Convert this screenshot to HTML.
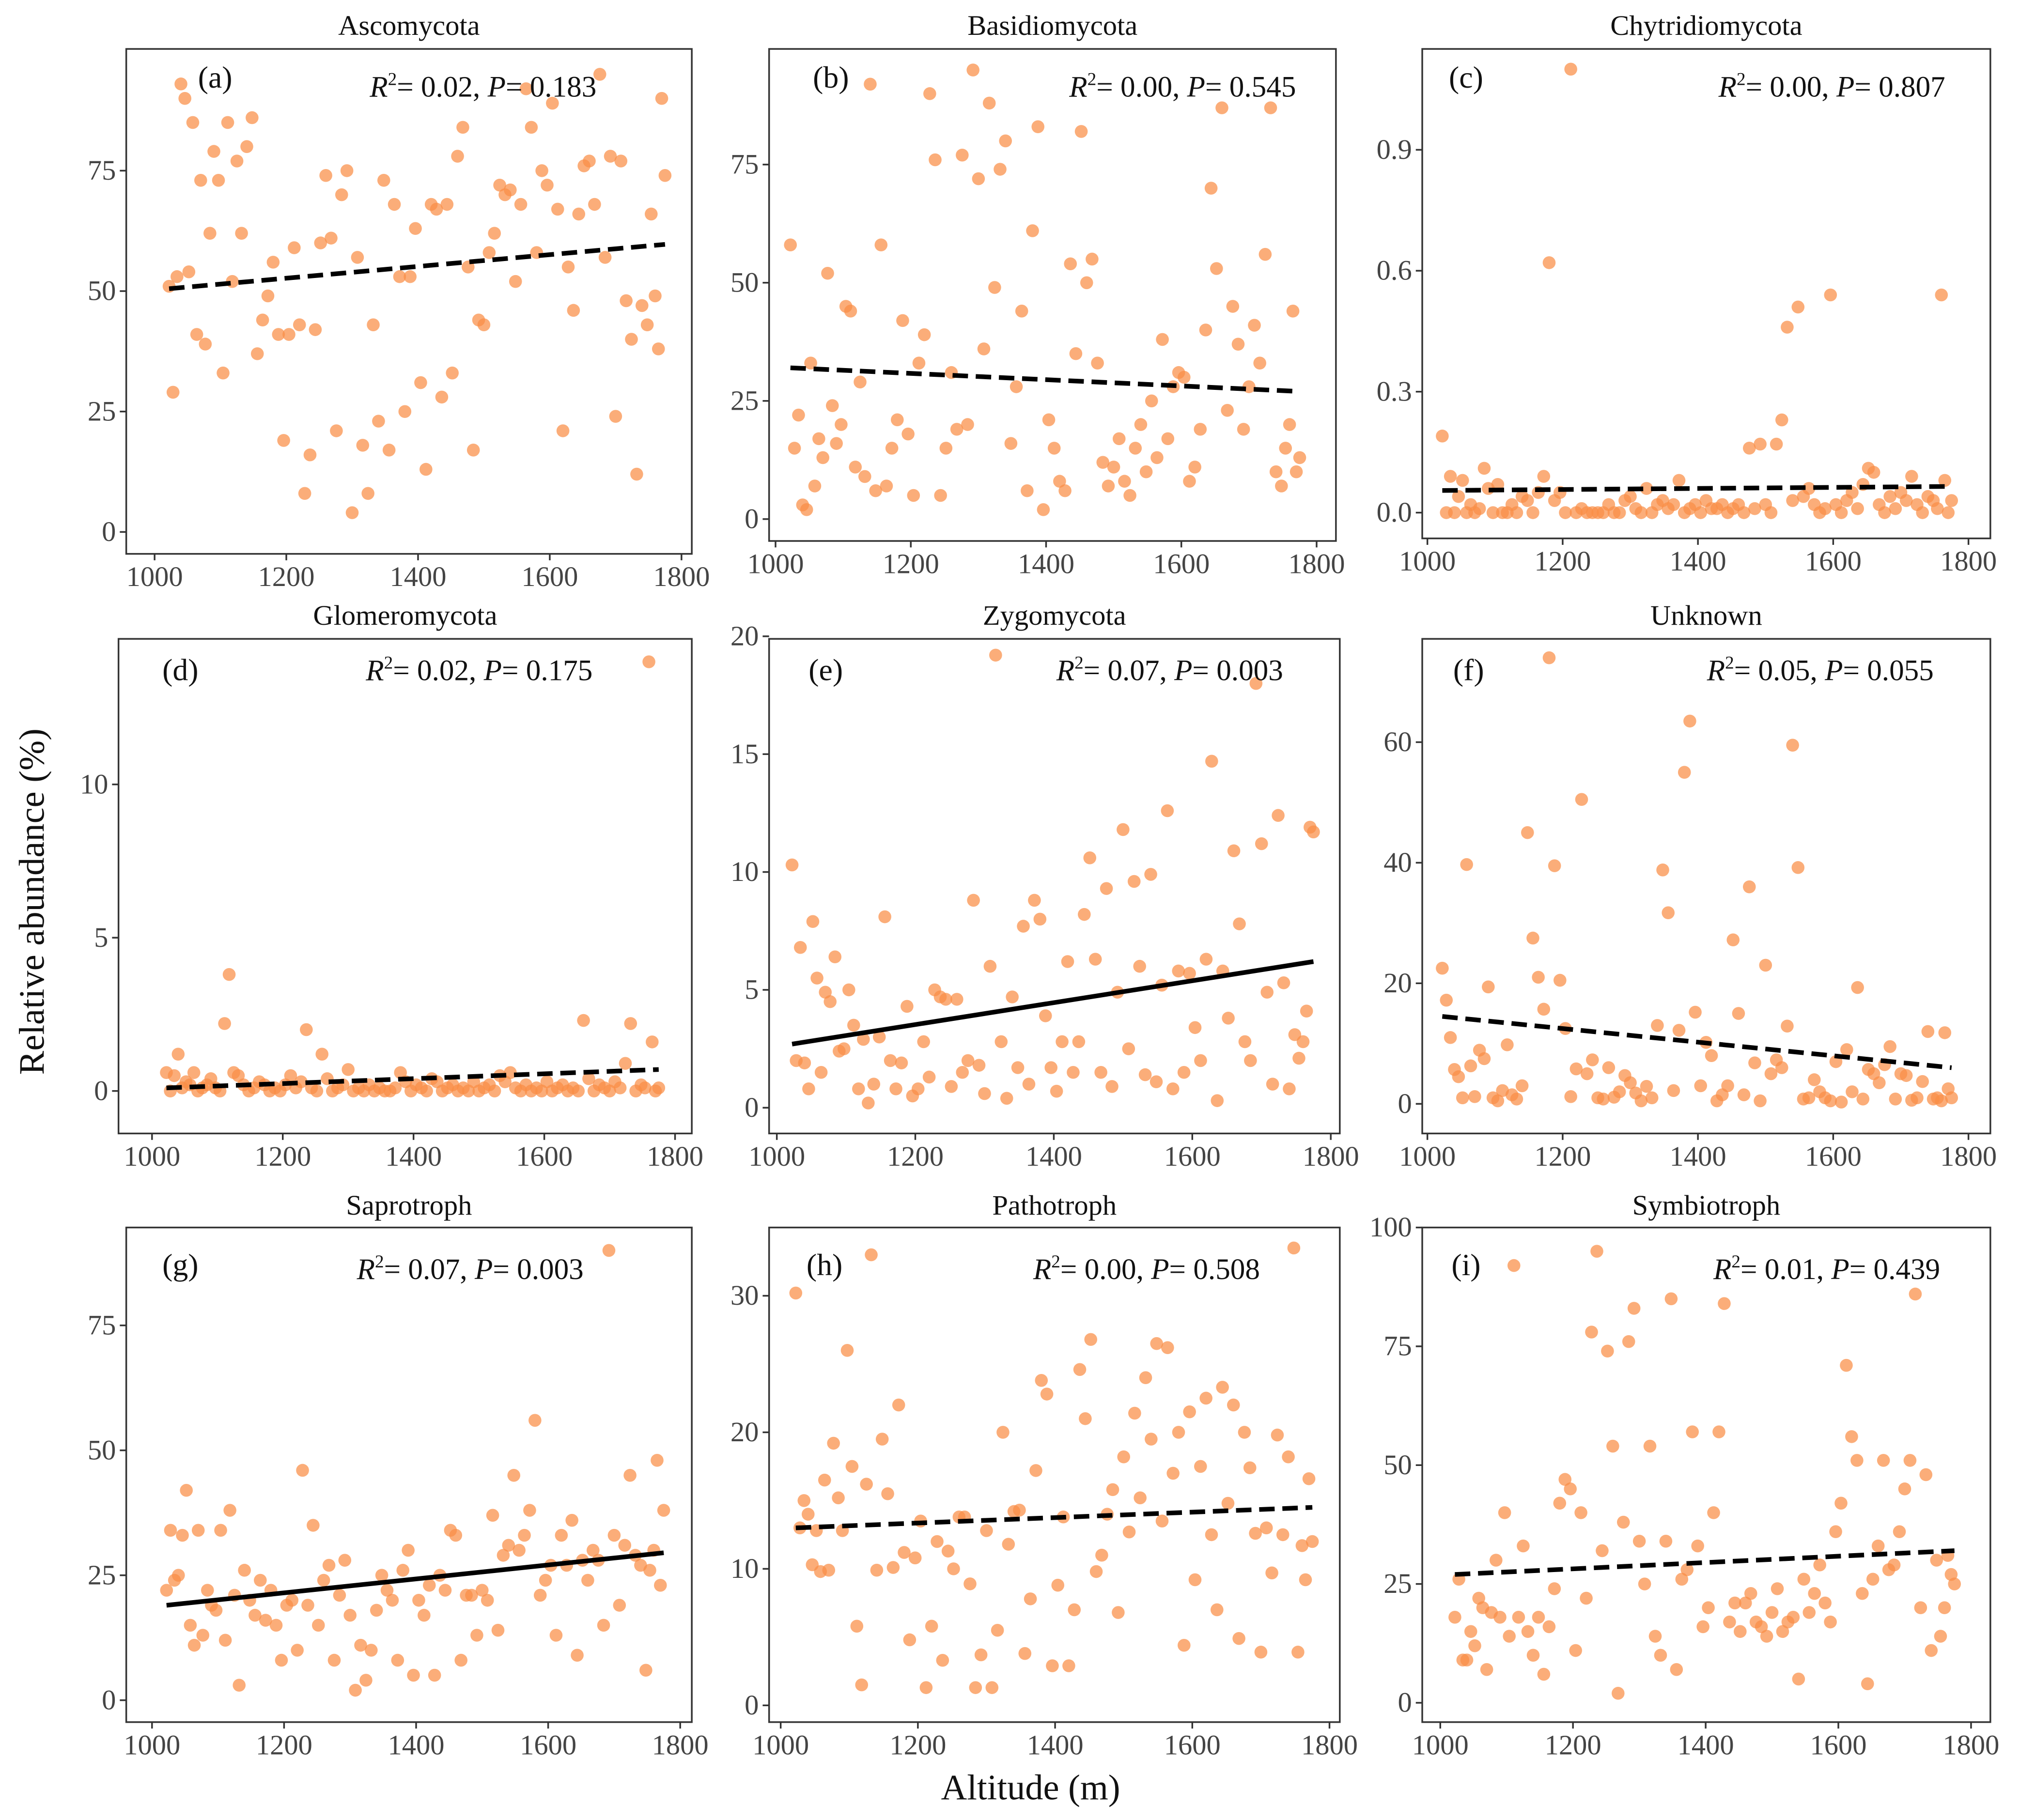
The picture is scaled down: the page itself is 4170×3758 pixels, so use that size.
<!DOCTYPE html>
<html><head><meta charset="utf-8"><style>
html,body{margin:0;padding:0;background:#fff;}
svg{display:block;font-family:"Liberation Serif",serif;}
</style></head><body>
<svg id="chart" width="4170" height="3758" viewBox="0 0 1568 1413" preserveAspectRatio="none" xmlns="http://www.w3.org/2000/svg">
<text x="0" y="0" transform="translate(34,700) rotate(-90)" text-anchor="middle" font-size="28" font-family="Liberation Serif, serif" fill="#111">Relative abundance (%)</text>
<text x="800" y="1397" text-anchor="middle" font-size="28" font-family="Liberation Serif, serif" fill="#111">Altitude (m)</text>
</svg>
<script>
const altitude = [1022,1028,1034,1040,1046,1052,1058,1064,1070,1077,1084,1090,1097,1104,1111,1118,1125,1132,1140,1148,1156,1164,1172,1180,1188,1196,1204,1212,1220,1228,1236,1244,1252,1260,1268,1276,1284,1292,1300,1308,1316,1324,1332,1340,1348,1356,1364,1372,1380,1388,1396,1404,1412,1420,1428,1436,1444,1452,1460,1468,1476,1484,1492,1500,1508,1516,1524,1532,1540,1548,1556,1564,1572,1580,1588,1596,1604,1612,1620,1628,1636,1644,1652,1660,1668,1676,1684,1692,1700,1708,1716,1724,1732,1740,1748,1754,1760,1765,1770,1775];
const ascomycota = [51,29,53,93,90,54,85,41,73,39, 62,79,73,33,85,52,77,62,80,86, 37,44,49,56,41,19,41,59,43,8, 16,42,60,74,61,21,70,75,4,57, 18,8,43,23,73,17,68,53,25,53, 63,31,13,68,67,28,68,33,78,84, 55,17,44,43,58,62,72,70,71,52, 68,92,84,58,75,72,89,67,21,55, 46,66,76,77,68,95,57,78,24,77, 48,40,12,47,43,66,49,38,90,74];
const basidiomycota = [58,15,22,3,2,33,7,17,13,52, 24,16,20,45,44,11,29,9,92,6, 58,7,15,21,42,18,5,33,39,90, 76,5,15,31,19,77,20,95,72,36, 88,49,74,80,16,28,44,6,61,83, 2,21,15,8,6,54,35,82,50,55, 33,12,7,11,17,8,5,15,20,10, 25,13,38,17,28,31,30,8,11,19, 40,70,53,87,23,45,37,19,28,41, 33,56,87,10,7,15,20,44,10,13];
const chytridiomycota = [0.19,0.0,0.09,0.0,0.04,0.08,0.0,0.02,0.0,0.01, 0.11,0.06,0.0,0.07,0.0,0.0,0.02,0.0,0.04,0.03, 0.0,0.05,0.09,0.62,0.03,0.05,0.0,1.1,0.0,0.01, 0.0,0.0,0.0,0.0,0.02,0.0,0.0,0.03,0.04,0.01, 0.0,0.06,0.0,0.02,0.03,0.01,0.02,0.08,0.0,0.01, 0.02,0.0,0.03,0.01,0.01,0.02,0.0,0.01,0.02,0.0, 0.16,0.01,0.17,0.02,0.0,0.17,0.23,0.46,0.03,0.51, 0.04,0.06,0.02,0.0,0.01,0.54,0.02,0.0,0.03,0.05, 0.01,0.07,0.11,0.10,0.02,0.0,0.04,0.01,0.05,0.03, 0.09,0.02,0.0,0.04,0.03,0.01,0.54,0.08,0.0,0.03];
const glomeromycota = [0.6,0.0,0.5,1.2,0.1,0.3,0.2,0.6,0.0,0.1, 0.2,0.4,0.1,0.0,2.2,3.8,0.6,0.5,0.2,0.0, 0.1,0.3,0.2,0.0,0.1,0.0,0.2,0.5,0.1,0.3, 2.0,0.1,0.0,1.2,0.4,0.0,0.1,0.2,0.7,0.0, 0.1,0.0,0.2,0.0,0.1,0.0,0.0,0.1,0.6,0.3, 0.0,0.2,0.1,0.0,0.4,0.3,0.0,0.1,0.2,0.0, 0.1,0.0,0.3,0.0,0.1,0.2,0.0,0.5,0.3,0.6, 0.1,0.0,0.2,0.0,0.1,0.0,0.3,0.0,0.1,0.2, 0.0,0.1,0.0,2.3,0.4,0.0,0.2,0.1,0.0,0.3, 0.1,0.9,2.2,0.0,0.2,0.1,14.0,1.6,0.0,0.1];
const zygomycota = [10.3,2.0,6.8,1.9,0.8,7.9,5.5,1.5,4.9,4.5, 6.4,2.4,2.5,5.0,3.5,0.8,2.9,0.2,1.0,3.0, 8.1,2.0,0.8,1.9,4.3,0.5,0.8,2.8,1.3,5.0, 4.7,4.6,0.9,4.6,1.5,2.0,8.8,1.8,0.6,6.0, 19.2,2.8,0.4,4.7,1.7,7.7,1.0,8.8,8.0,3.9, 1.7,0.7,2.8,6.2,1.5,2.8,8.2,10.6,6.3,1.5, 9.3,0.9,4.9,11.8,2.5,9.6,6.0,1.4,9.9,1.1, 5.2,12.6,0.8,5.8,1.5,5.7,3.4,2.0,6.3,14.7, 0.3,5.8,3.8,10.9,7.8,2.8,2.0,18.0,11.2,4.9, 1.0,12.4,5.3,0.8,3.1,2.1,2.8,4.1,11.9,11.7];
const unknownPhyla = [22.5,17.2,11.0,5.7,4.5,1.0,39.7,6.3,1.2,8.9, 7.5,19.4,1.0,0.5,2.2,9.8,1.5,0.8,3.0,45.0, 27.5,21.0,15.7,74.0,39.5,20.5,12.5,1.2,5.8,50.5, 5.0,7.3,1.0,0.8,6.0,1.1,2.0,4.7,3.5,1.8, 0.5,2.9,1.0,13.0,38.8,31.7,2.2,12.2,55.0,63.5, 15.2,3.0,10.2,8.0,0.5,1.5,3.0,27.2,15.0,1.5, 36.0,6.8,0.5,23.0,5.0,7.3,6.0,12.9,59.5,39.2, 0.8,1.0,4.0,2.0,1.0,0.5,7.0,0.3,9.0,2.0, 19.3,0.8,5.7,5.0,3.5,6.5,9.5,0.8,5.0,4.7, 0.6,1.0,3.7,12.0,0.8,1.0,0.5,11.8,2.5,1.0];
const saprotroph = [22,34,24,25,33,42,15,11,34,13, 22,19,18,34,12,38,21,3,26,20, 17,24,16,22,15,8,19,20,10,46, 19,35,15,24,27,8,21,28,17,2, 11,4,10,18,25,22,20,8,26,30, 5,20,17,23,5,25,22,34,33,8, 21,21,13,22,20,37,14,29,31,45, 30,33,38,56,21,24,27,13,33,27, 36,9,28,24,30,28,15,90,33,19, 31,45,29,27,6,26,30,48,23,38];
const pathotroph = [30.2,13.0,15.0,14.0,10.3,12.8,9.8,16.5,9.9,19.2, 15.2,12.8,26.0,17.5,5.8,1.5,16.2,33.0,9.9,19.5, 15.5,10.1,22.0,11.2,4.8,10.8,13.5,1.3,5.8,12.0, 3.3,11.3,10.0,13.8,13.8,8.9,1.3,3.7,12.8,1.3, 5.5,20.0,11.8,14.2,14.3,3.8,7.8,17.2,23.8,22.8, 2.9,8.8,13.8,2.9,7.0,24.6,21.0,26.8,9.8,11.0, 14.0,15.8,6.8,18.2,12.7,21.4,15.2,24.0,19.5,26.5, 13.5,26.2,17.0,20.0,4.4,21.5,9.2,17.5,22.5,12.5, 7.0,23.3,14.8,22.0,4.9,20.0,17.4,12.6,3.9,13.0, 9.7,19.8,12.5,18.2,33.5,3.9,11.7,9.2,16.6,12.0];
const symbiotroph = [18,26,9,9,15,12,22,20,7,19, 30,18,40,14,92,18,33,15,10,18, 6,16,24,42,47,45,11,40,22,78, 95,32,74,54,2,38,76,83,34,25, 54,14,10,34,85,7,26,28,57,33, 16,20,40,57,84,17,21,15,21,23, 17,16,14,19,24,15,17,18,5,26, 19,23,29,21,17,36,42,71,56,51, 23,4,26,33,51,28,29,36,45,51, 86,20,48,11,30,14,20,31,27,25];
const panelTitles = ["Ascomycota","Basidiomycota","Chytridiomycota","Glomeromycota","Zygomycota","Unknown","Saprotroph","Pathotroph","Symbiotroph"];
const panelLetters = ["(a)","(b)","(c)","(d)","(e)","(f)","(g)","(h)","(i)"];
const r2Values = ["0.02","0.00","0.00","0.02","0.07","0.05","0.07","0.00","0.01"];
const pValues = ["0.183","0.545","0.807","0.175","0.003","0.055","0.003","0.508","0.439"];
const fitStart = [50.5,32,0.055,0.1,2.7,14.5,19,13,27];
const fitEnd = [59.7,27,0.065,0.7,6.2,6,29.5,14.5,32];
const fitSolid = [false,false,false,false,true,false,true,false,false];
const fitRange = [1022,1775];
const yTickValues = [[0,25,50,75],[0,25,50,75],[0,0.3,0.6,0.9],[0,5,10],[0,5,10,15,20],[0,20,40,60],[0,25,50,75],[0,10,20,30],[0,25,50,75,100]];
const yTickLabels = [["0","25","50","75"],["0","25","50","75"],["0.0","0.3","0.6","0.9"],["0","5","10"],["0","5","10","15","20"],["0","20","40","60"],["0","25","50","75"],["0","10","20","30"],["0","25","50","75","100"]];
const xTickValues = [1000,1200,1400,1600,1800];
const xTickLabels = ["1000","1200","1400","1600","1800"];
const seriesList = [ascomycota,basidiomycota,chytridiomycota,glomeromycota,zygomycota,unknownPhyla,saprotroph,pathotroph,symbiotroph];

const layout = [
 {f:[98,537,38,430],x:[120,529],y0:413,k:3.74,lt:[167,68],st:[375,75],ty:20},
 {f:[597,1037,38,420],x:[602,1022],y0:403,k:3.67,lt:[645,68],st:[918,75],ty:20},
 {f:[1104,1545,38,418],x:[1108,1528],y0:398,k:313,lt:[1138,68],st:[1422,75],ty:20},
 {f:[92,537,496,880],x:[118,524],y0:847,k:23.8,lt:[140,528],st:[372,528],ty:478},
 {f:[597,1040,496,880],x:[603,1033],y0:860,k:18.3,lt:[641,528],st:[908,528],ty:478},
 {f:[1104,1545,496,880],x:[1108,1528],y0:857,k:4.68,lt:[1140,528],st:[1413,528],ty:478},
 {f:[98,537,953,1337],x:[118,528],y0:1320,k:3.88,lt:[140,990],st:[365,993],ty:936},
 {f:[597,1040,953,1337],x:[606,1032],y0:1324,k:10.6,lt:[640,990],st:[890,993],ty:936},
 {f:[1104,1545,953,1337],x:[1118,1530],y0:1322,k:3.69,lt:[1138,990],st:[1418,993],ty:936}
];
const NS="http://www.w3.org/2000/svg";
const FF="Liberation Serif, serif";
const svg=document.getElementById('chart');
function mk(tag,attrs,parent){const e=document.createElementNS(NS,tag);for(const k in attrs)e.setAttribute(k,attrs[k]);(parent||svg).appendChild(e);return e;}
layout.forEach((L,p)=>{
  const g=mk('g',{});
  
  
  const sx=v=>L.x[0]+(v-1000)*(L.x[1]-L.x[0])/800;
  const sy=v=>L.y0-v*L.k;
  const [x0,x1,y0,y1]=L.f;
  const t=mk('text',{x:(x0+x1)/2,y:L.ty+7,'text-anchor':'middle','font-size':22,'font-family':FF,fill:'#111'},g);
  t.textContent=panelTitles[p];
  
  
  const s=seriesList[p];
  const n=Math.min(s.length,altitude.length);
  for(let i=0;i<n;i++){
    const c=mk('circle',{cx:sx(altitude[i]),cy:sy(s[i]),r:5,fill:'#f98d45','fill-opacity':0.72},g);
    
    
  }
  const ln=mk('line',{x1:sx(fitRange[0]),y1:sy(fitStart[p]),x2:sx(fitRange[1]),y2:sy(fitEnd[p]),stroke:'#000','stroke-width':3.6},g);
  if(!fitSolid[p]) ln.setAttribute('stroke-dasharray','12,6');
  
  
  const fr=mk('rect',{x:x0,y:y0,width:x1-x0,height:y1-y0,fill:'none',stroke:'#333','stroke-width':1.3},g);
  
  
  yTickValues[p].forEach((v,j)=>{
    const yy=sy(v);
    const tk=mk('line',{x1:x0-5,y1:yy,x2:x0,y2:yy,stroke:'#333','stroke-width':1.3},g);
    
    
    const tl=mk('text',{x:x0-8,y:yy+7,'text-anchor':'end','font-size':22,'font-family':FF,fill:'#444'},g);
    tl.textContent=yTickLabels[p][j];
    
    
  });
  xTickValues.forEach((v,j)=>{
    const xx=sx(v);
    const tk=mk('line',{x1:xx,y1:y1,x2:xx,y2:y1+5,stroke:'#333','stroke-width':1.3},g);
    
    
    const tl=mk('text',{x:xx,y:y1+25,'text-anchor':'middle','font-size':22,'font-family':FF,fill:'#444'},g);
    tl.textContent=xTickLabels[j];
    
    
  });
  const le=mk('text',{x:L.lt[0],y:L.lt[1],'text-anchor':'middle','font-size':24,'font-family':FF,fill:'#111'},g);
  le.textContent=panelLetters[p];
  
  
  const st=mk('text',{x:L.st[0],y:L.st[1],'text-anchor':'middle','font-size':23,'font-family':FF,fill:'#111'},g);
  
  
  const a=mk('tspan',{'font-style':'italic'},st);a.textContent='R';
  const b=mk('tspan',{'font-size':14,dy:-9},st);b.textContent='2';
  const c2=mk('tspan',{dy:9},st);c2.textContent='= '+r2Values[p]+', ';
  const d=mk('tspan',{'font-style':'italic'},st);d.textContent='P';
  const e=mk('tspan',{},st);e.textContent='= '+pValues[p];
});
</script>
</body></html>
